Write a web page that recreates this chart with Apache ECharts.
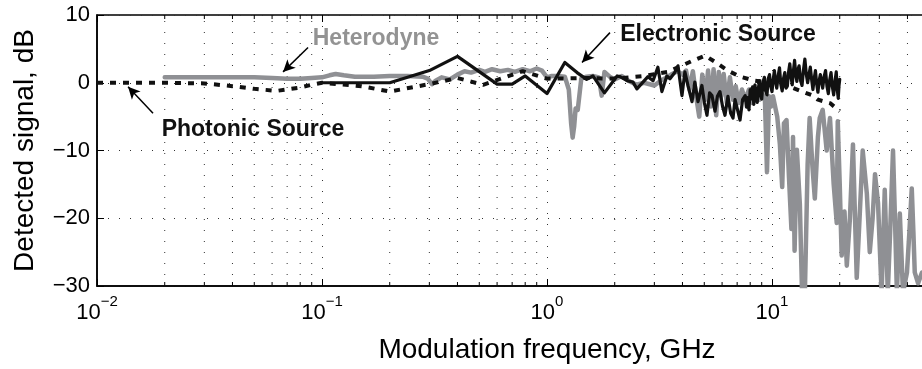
<!DOCTYPE html>
<html><head><meta charset="utf-8">
<script src="https://cdn.jsdelivr.net/npm/echarts@6/dist/echarts.min.js"></script>
<style>html,body{margin:0;padding:0;background:#fff;width:922px;height:369px;overflow:hidden}#c{width:1000px;height:369px}</style>
</head><body><div id="c"></div>
<script>
// ---- tick labels ----
const xTickExponents = [-2, -1, 0, 1];
const yTicks = [-30, -20, -10, 0, 10];
const minorFreqs = [0.02,0.03,0.04,0.05,0.06,0.07,0.08,0.09,
                    0.2,0.3,0.4,0.5,0.6,0.7,0.8,0.9,
                    2,3,4,5,6,7,8,9,
                    20,30,40,50,60,70,80,90];

// ---- Heterodyne (gray) ----
const hetFreq = [0.02,0.03,0.04,0.05,0.06,0.07,0.08,0.09,0.1,0.108,0.115,0.125,0.14,0.17,0.2,0.24,0.28,0.295,0.308,0.32,0.34,0.37,0.4,0.43,0.46,0.5,0.53,0.57,0.62,0.67,0.72,0.78,0.84,0.9,0.95,1.0,1.05,1.12,1.2,1.25,1.28,1.3,1.32,1.34,1.37,1.42,1.5,1.6,1.7,1.75,1.8,1.9,2.0,2.15,2.3,2.5,2.7,3.0,3.2,3.4,3.6,3.8,4.0,4.15,4.3,4.45,4.6,4.75,4.9,5.05,5.2,5.35,5.5,5.65,5.8,5.95,6.1,6.3,6.5,6.7,6.9,7.1,7.35,7.6,7.9,8.2,8.5,8.8,9.1,9.3,9.5,9.7,9.9,10.1,10.3,10.55,10.84,11.1,11.3,11.6,11.9,12.2,12.4,12.6,12.9,13.3,13.6,14.0,14.4,14.7,15.1,15.5,16.0,16.3,16.8,17.5,18.1,18.8,19.4,19.6,20.0,20.4,21.0,21.5,22.2,22.9,23.3,23.8,24.5,25.3,26.4,27.2,28.0,28.7,29.6,30.7,31.7,32.7,33.5,34.5,35.2,35.9,37.0,38.2,39.8,40.8,41.8,42.5,43.1,44.6,46.4,48.5];
const hetDb = [0.8,0.8,0.8,0.8,0.7,0.6,0.6,0.7,0.8,1.1,1.3,1.1,0.9,0.9,1.0,1.0,0.9,0.6,-0.2,0.3,0.8,0.5,1.2,1.7,1.5,1.9,1.6,2.0,1.7,1.9,1.6,2.0,1.7,2.1,1.8,0.8,1.0,1.0,0.9,-1.0,-6.0,-8.1,-6.5,-3.8,-4.0,0.6,0.9,1.0,0.8,-1.9,1.6,0.9,0.5,1.0,0.3,-0.3,0.0,-0.4,0.3,0.8,1.3,1.7,1.2,1.8,-1.0,1.7,-2.0,-5.0,1.2,-2.5,1.8,-3.5,2.0,-4.8,1.6,-2.0,1.3,-3.0,0.8,-2.5,-0.5,-3.0,-1.0,-2.5,-1.0,-3.0,-1.5,-2.5,-1.8,-2.3,-13.2,-2.0,-3.5,-2.0,-1.9,-5.0,-9.1,-15.4,-6.0,-5.5,-14.0,-21.6,-8.0,-24.8,-9.9,-18.0,-31,-31,-12.0,-5.2,-12.0,-17.1,-8.0,-5.2,-4.0,-10.0,-5.2,-15.0,-20.7,-5.7,-15.0,-25.5,-19.0,-27.0,-20.0,-9.1,-18.0,-28.8,-20.0,-10.0,-16.4,-25.0,-20.0,-13.5,-17.8,-31,-15.8,-31,-22.0,-10.0,-20.0,-31,-19.3,-31,-28.0,-22.0,-15.6,-22.0,-28.0,-29.6,-28.0,-29.5];

// ---- Electronic Source (black solid) ----
const elecFreq = [0.1,0.2,0.3,0.4,0.6,0.7,0.8,1.0,1.2,1.36,1.5,1.6,1.8,2.05,2.11,2.27,2.41,2.51,2.64,2.81,2.96,3.11,3.24,3.41,3.52,3.71,3.82,3.98,4.10,4.23,4.41,4.54,4.69,4.88,5.01,5.14,5.28,5.41,5.58,5.72,5.87,6.03,6.18,6.37,6.55,6.71,6.85,6.99,7.21,7.4,
  7.6,7.7,7.8,7.9,8.0,8.1,8.2,8.3,8.4,8.5,8.6,8.7,8.8,8.9,9.0,9.12,9.25,9.37,9.5,9.62,9.75,9.87,10.0,10.12,10.25,10.37,10.5,10.65,10.8,10.95,11.1,11.25,11.4,11.55,11.7,11.85,12.0,12.15,12.3,12.45,12.6,12.75,12.9,13.05,13.2,13.4,13.6,13.8,14.0,14.2,14.4,14.6,14.8,15.0,15.2,15.4,15.6,15.8,16.0,16.2,16.4,16.6,16.8,17.05,17.3,17.55,17.8,18.05,18.3,18.55,18.8,19.05,19.3,19.5,19.7,19.85,20.0];
const elecDb = [0,0,1.8,3.9,-0.2,-0.2,1.0,-1.6,3.0,1.5,0.5,1.0,-1.5,1.0,0.9,0.3,0.1,-0.9,-0.1,0.9,0.3,2.3,-1.3,1.0,0.6,1.6,2.5,-1.9,1.6,-0.4,-2.8,0.1,-2.8,-0.4,-3.0,-4.8,-1.5,-1.9,-4.2,-2.0,-1.3,-3.5,-4.8,-2.0,-4.5,-5.2,-2.5,-2.3,-5.5,-2.5,
  -1.9,-3.6,-2.2,-4.0,-1.0,-2.4,-0.6,-3.2,-0.3,-1.8,-2.9,-0.8,0.3,-1.9,-2.4,0.1,0.8,-1.2,-1.8,0.6,1.2,-0.5,-1.3,0.4,1.8,0.2,-0.8,1.0,2.2,-0.3,-1.2,0.6,1.5,-0.8,-0.5,1.6,2.8,0.9,-0.3,1.7,3.3,1.2,0.2,2.0,2.5,0.3,-0.4,1.9,3.5,1.3,0.0,1.2,2.3,0.5,-1.0,0.6,1.8,-0.2,-1.4,0.3,1.2,0.2,-0.8,0.9,1.8,-0.5,-1.6,0.4,1.5,-0.6,-1.8,0.2,1.6,-1.0,-2.3,-0.4,0.5];

// ---- Photonic Source (black dashed) ----
const photFreq = [0.01,0.02,0.03,0.04,0.05,0.063,0.08,0.09,0.1,0.15,0.2,0.3,0.4,0.52,0.78,1.0,1.5,2.0,2.7,3.45,4.4,5.04,5.69,6.36,7.21,8.4,10,12,15.2,16.0,18.1,20.0];
const photDb = [0,0,-0.1,-0.5,-0.9,-1.2,-0.7,-0.3,0,-0.5,-1.3,-0.2,0.7,-0.3,1.7,0.6,0.7,0.6,1.0,1.6,3.2,4.0,2.9,1.8,0.9,0.3,0,-0.6,-1.9,-2.5,-3.0,-4.2];

// ---- annotation arrows (data coords: [from],[to]) ----
const arrowHet = [[0.0867, 5.2], [0.0671, 1.6]];
const arrowPhot = [[0.01774, -4.5], [0.01374, -0.6]];
const arrowElec = [[1.905, 7.4], [1.431, 3.0]];

const FONT = "'Liberation Sans', Arial, Helvetica, sans-serif";
const zip = (a, b) => a.map((v, i) => [v, b[i]]);
const minus = v => (v < 0 ? '\u2212' + (-v) : String(v));

const chart = echarts.init(document.getElementById('c'), null, {renderer: 'canvas'});
const option = {
  animation: false,
  backgroundColor: '#fff',
  grid: {left: 97, right: 3, top: 15, bottom: 78, show: true, borderColor: '#000', borderWidth: 1.5, backgroundColor: 'transparent'},
  xAxis: [{
    type: 'log', logBase: 10, min: 0.01, max: 100, position: 'bottom',
    axisLine: {show: true, onZero: false, lineStyle: {color: '#000', width: 1.5}},
    axisTick: {show: true, inside: true, length: 7, lineStyle: {color: '#000', width: 1}},
    splitLine: {show: true, lineStyle: {color: '#333', width: 1, type: [1, 10]}},
    axisLabel: {
      margin: 8,
      formatter: v => {
        const e = Math.log10(v), r = Math.round(e);
        if (Math.abs(e - r) > 1e-6 || !xTickExponents.includes(r)) return '';
        return '{b|10}{s|' + minus(r) + '}';
      },
      rich: {
        b: {fontSize: 22, fontFamily: FONT, color: '#000', verticalAlign: 'bottom', lineHeight: 30},
        s: {fontSize: 15, fontFamily: FONT, color: '#000', verticalAlign: 'top', lineHeight: 30}
      }
    },
    name: 'Modulation frequency, GHz', nameLocation: 'middle', nameGap: 50,
    nameTextStyle: {fontSize: 28, fontFamily: FONT, color: '#000'}
  }, {
    type: 'log', logBase: 10, min: 0.01, max: 100, position: 'top',
    axisLine: {show: false, onZero: false},
    axisTick: {show: true, inside: true, length: 7, lineStyle: {color: '#000', width: 1}},
    axisLabel: {show: false}, splitLine: {show: false}
  }],
  yAxis: {
    type: 'value', min: -30, max: 10, interval: 10,
    axisLine: {show: true, onZero: false, lineStyle: {color: '#000', width: 1.5}},
    axisTick: {show: true, inside: true, length: 7, lineStyle: {color: '#000', width: 1}},
    splitLine: {show: true, lineStyle: {color: '#333', width: 1, type: [1, 10]}},
    axisLabel: {margin: 7, fontSize: 22, fontFamily: FONT, color: '#000',
      formatter: v => yTicks.includes(v) ? minus(v) : ''},
    name: 'Detected signal, dB', nameLocation: 'middle', nameGap: 58,
    nameTextStyle: {fontSize: 28, fontFamily: FONT, color: '#000'}
  },
  series: [{
    type: 'custom', silent: true, z: 1, clip: true,
    data: minorFreqs.map(f => [f, 0]),
    renderItem: (params, api) => {
      const f = api.value(0);
      const b = api.coord([f, -30]);
      const t = api.coord([f, 10]);
      return {type: 'group', children: [
        {type: 'line', shape: {x1: b[0], y1: b[1], x2: t[0], y2: t[1]}, style: {stroke: '#333', lineWidth: 1, lineDash: [1, 10]}},
        {type: 'line', shape: {x1: b[0], y1: b[1], x2: b[0], y2: b[1] - 4}, style: {stroke: '#000', lineWidth: 1}},
        {type: 'line', shape: {x1: t[0], y1: t[1], x2: t[0], y2: t[1] + 4}, style: {stroke: '#000', lineWidth: 1}}
      ]};
    }
  }, {
    name: 'Heterodyne', type: 'line', data: zip(hetFreq, hetDb), showSymbol: false, z: 3,
    lineStyle: {color: '#8f9094', width: 4.5, join: 'round', cap: 'round'}
  }, {
    name: 'Photonic Source', type: 'line', data: zip(photFreq, photDb), showSymbol: false, z: 4,
    lineStyle: {color: '#111', width: 4, type: [6, 7], join: 'round'}
  }, {
    name: 'Electronic Source', type: 'line', data: zip(elecFreq, elecDb), showSymbol: false, z: 5,
    lineStyle: {color: '#111', width: 3.2, join: 'round', cap: 'round'},
    markLine: {
      silent: true, symbol: ['none', 'arrow'], symbolSize: [9, 12],
      label: {show: false},
      lineStyle: {color: '#000', width: 1.5, type: 'solid'},
      data: [arrowHet, arrowPhot, arrowElec].map(a => [{coord: a[0]}, {coord: a[1]}])
    }
  }],
  graphic: [
    {type: 'text', x: 376, y: 39, z: 100, style: {text: 'Heterodyne', fill: '#939393', font: 'bold 23px ' + FONT, textAlign: 'center', textVerticalAlign: 'middle', align: 'center', verticalAlign: 'middle'}},
    {type: 'text', x: 253, y: 130, z: 100, style: {text: 'Photonic Source', fill: '#111', font: 'bold 23px ' + FONT, textAlign: 'center', textVerticalAlign: 'middle', align: 'center', verticalAlign: 'middle'}},
    {type: 'text', x: 718, y: 35, z: 100, style: {text: 'Electronic Source', fill: '#111', font: 'bold 23px ' + FONT, textAlign: 'center', textVerticalAlign: 'middle', align: 'center', verticalAlign: 'middle'}}
  ]
};
chart.setOption(option);
</script></body></html>
